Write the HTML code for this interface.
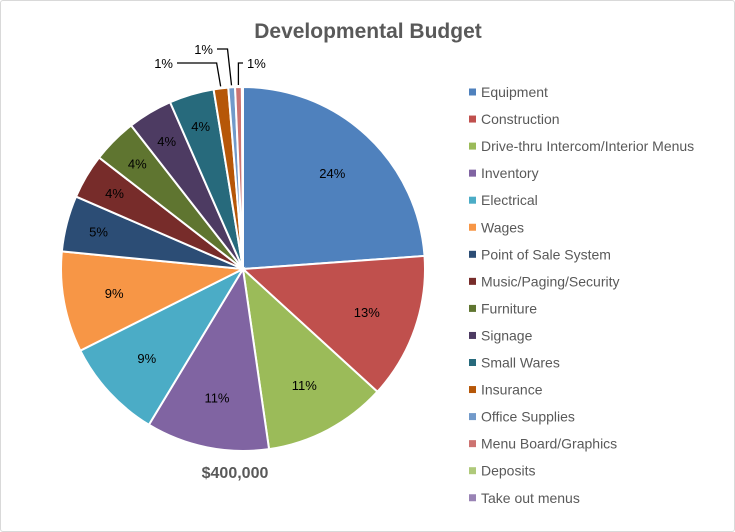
<!DOCTYPE html>
<html><head><meta charset="utf-8"><style>
body{margin:0;background:#fff;}
#c{position:relative;width:733px;height:530px;border:1px solid #d9d9d9;border-radius:3px;overflow:hidden;font-family:"Liberation Sans",sans-serif;}
</style></head><body>
<div id="c">
<svg id="s" width="733" height="530">
<text x="367" y="37" text-anchor="middle" font-size="21" font-weight="bold" fill="#595959">Developmental Budget</text>
<text x="234" y="477" text-anchor="middle" font-size="16" font-weight="bold" fill="#595959">$400,000</text>
</svg>
</div>
<script>
const categories=["Equipment","Construction","Drive-thru Intercom/Interior Menus","Inventory","Electrical","Wages","Point of Sale System","Music/Paging/Security","Furniture","Signage","Small Wares","Insurance","Office Supplies","Menu Board/Graphics","Deposits","Take out menus"];
const values=[24,13,11,11,9,9,5,4,4,4,4,1.3,0.6,0.6,0.05,0.05];
const labels=["24%","13%","11%","11%","9%","9%","5%","4%","4%","4%","4%","1%","1%","1%","",""];
const colors=["#4f81bd","#c0504d","#9bbb59","#8064a2","#4bacc6","#f79646","#2c4d75","#772c2a","#5f7530","#4d3b62","#276a7c","#b65708","#729aca","#cd7371","#afc97a","#9983b5"];
const NS="http://www.w3.org/2000/svg",s=document.getElementById('s');
const cx=242,cy=268,R=182;
const total=values.reduce((a,b)=>a+b,0);
function pt(a,r){return [cx+r*Math.sin(a),cy-r*Math.cos(a)];}
let acc=0;
const outside={11:[172,67,"end"],12:[212,53,"end"],13:[246,67,"start"]};
values.forEach((v,i)=>{
 const a0=acc/total*2*Math.PI;acc+=v;const a1=acc/total*2*Math.PI;
 const p0=pt(a0,R),p1=pt(a1,R);
 const p=document.createElementNS(NS,'path');
 p.setAttribute('d',`M${cx},${cy}L${p0[0]},${p0[1]}A${R},${R} 0 ${a1-a0>Math.PI?1:0} 1 ${p1[0]},${p1[1]}Z`);
 p.setAttribute('fill',colors[i]);p.setAttribute('stroke','#fff');p.setAttribute('stroke-width','2');
 
 
 s.appendChild(p);
 if(!labels[i])return;
 const am=(a0+a1)/2;
 const t=document.createElementNS(NS,'text');
 t.setAttribute('font-size','13');t.setAttribute('fill','#000');
 
 
 if(outside[i]){
  const o=outside[i],e=pt(am,R+2);
  const l=document.createElementNS(NS,'polyline');
  const lx=o[2]=="end"?o[0]+4:o[0]-4;
  l.setAttribute('points',`${e[0]},${e[1]} ${o[2]=="end"?e[0]-4:e[0]} ${o[1]-5} ${lx},${o[1]-5}`);
  l.setAttribute('fill','none');l.setAttribute('stroke','#000');l.setAttribute('stroke-width','1.3');
  
  
  s.appendChild(l);
  t.setAttribute('x',o[0]);t.setAttribute('y',o[1]);t.setAttribute('text-anchor',o[2]);
 }else{
  const q=pt(am,R*(v>6?0.72:0.82));
  t.setAttribute('x',q[0]);t.setAttribute('y',q[1]+5);t.setAttribute('text-anchor','middle');
 }
 t.textContent=labels[i];s.appendChild(t);
});
categories.forEach((c,i)=>{
 const y=91+i*27.05;
 const r=document.createElementNS(NS,'rect');
 r.setAttribute('x',468);r.setAttribute('y',y-3.5);r.setAttribute('width',7);r.setAttribute('height',7);r.setAttribute('fill',colors[i]);
 
 
 s.appendChild(r);
 const t=document.createElementNS(NS,'text');
 t.setAttribute('x',480);t.setAttribute('y',y+5);t.setAttribute('font-size','14');t.setAttribute('fill','#595959');
 
 
 t.textContent=c;s.appendChild(t);
});
</script>
</body></html>
